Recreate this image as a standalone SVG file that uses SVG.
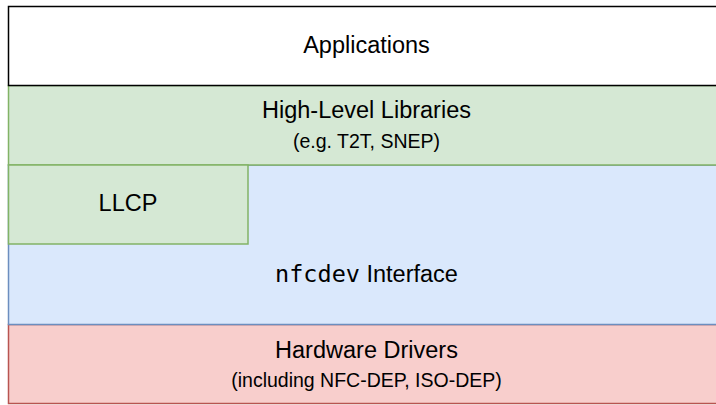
<svg xmlns="http://www.w3.org/2000/svg" width="716" height="405" viewBox="0 0 716 405">
<style>
.t{font-family:"Liberation Sans",Arial,sans-serif;font-size:23.5px;fill:#000;text-anchor:middle}
.s{font-family:"Liberation Sans",Arial,sans-serif;font-size:19.5px;fill:#000;text-anchor:middle}
.m{font-family:"DejaVu Sans Mono",monospace;font-size:23.5px}
</style>
<g id="hw"><rect x="8.5" y="324.5" width="716" height="79" fill="#f8cecc" stroke="#b85450" stroke-width="1.5"/>
<text class="t" x="366.5" y="358">Hardware Drivers</text>
<text class="s" x="366.5" y="387">(including NFC-DEP, ISO-DEP)</text></g>
<g id="nfcdev"><rect x="8.5" y="165" width="716" height="159.5" fill="#dae8fc" stroke="#6c8ebf" stroke-width="1.5"/>
<text class="t" x="366.5" y="282"><tspan class="m">nfcdev</tspan> Interface</text></g>
<g id="hll"><rect x="8.5" y="85.5" width="716" height="79.5" fill="#d5e8d4" stroke="#82b366" stroke-width="1.5"/>
<text class="t" x="366.5" y="118">High-Level Libraries</text>
<text class="s" x="366.5" y="148">(e.g. T2T, SNEP)</text></g>
<g id="llcp"><rect x="8.5" y="165" width="239.5" height="79" fill="#d5e8d4" stroke="#82b366" stroke-width="1.5"/>
<text class="t" x="128" y="211">LLCP</text></g>
<g id="apps"><rect x="8.5" y="6.5" width="716" height="79" fill="#ffffff" stroke="#000000" stroke-width="1.5"/>
<text class="t" x="366.5" y="52.5">Applications</text></g>
<g id="connectors"></g>
</svg>
